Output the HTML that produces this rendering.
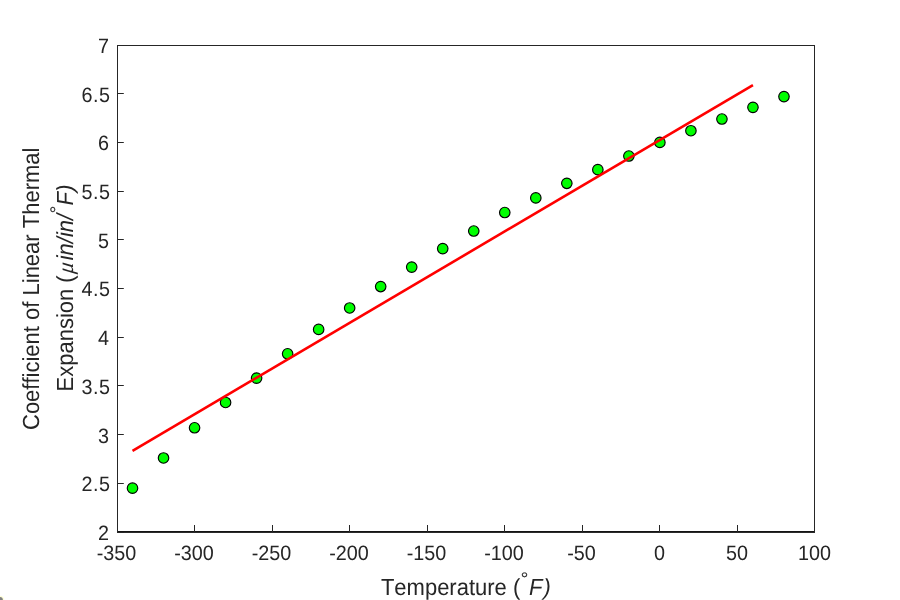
<!DOCTYPE html>
<html lang="en">
<head>
<meta charset="utf-8">
<title>Coefficient of Linear Thermal Expansion vs Temperature</title>
<style>
html,body{margin:0;padding:0;background:#fff;}
body{width:900px;height:600px;overflow:hidden;}
svg{display:block;}
text{font-family:"Liberation Sans",Arial,Helvetica,sans-serif;fill:#262626;text-rendering:geometricPrecision;}
.tk{font-size:19.80px;}
.lb{font-size:22.00px;font-kerning:none;}
.it{font-style:italic;}
.sp{letter-spacing:0.4px;}
.dg{font-family:"DejaVu Sans","Liberation Sans",sans-serif;font-weight:200;font-size:19px;stroke:#262626;stroke-width:0.35px;}
.mu{font-family:"Liberation Serif","DejaVu Serif",serif;font-style:italic;}
</style>
</head>
<body>
<svg width="900" height="600" viewBox="0 0 900 600">
<rect x="0" y="0" width="900" height="600" fill="#ffffff"/>
<circle cx="0" cy="600" r="4.3" fill="#ffffd8"/>
<circle cx="0" cy="600" r="2.9" fill="#808080"/>
<g stroke="#262626" stroke-width="1" fill="none" shape-rendering="crispEdges">
<line x1="117.5" y1="45.5" x2="117.5" y2="532.0"/>
<line x1="814.5" y1="45.5" x2="814.5" y2="532.0"/>
<line x1="117.0" y1="45.5" x2="815.0" y2="45.5"/>
</g>
<rect x="117.0" y="531.0" width="698.0" height="1.9" fill="#141414"/>
<g stroke="#262626" stroke-width="1" fill="none">
<line x1="117.50" y1="532.0" x2="117.50" y2="525.0"/>
<line x1="194.50" y1="532.0" x2="194.50" y2="525.0"/>
<line x1="272.50" y1="532.0" x2="272.50" y2="525.0"/>
<line x1="349.50" y1="532.0" x2="349.50" y2="525.0"/>
<line x1="427.50" y1="532.0" x2="427.50" y2="525.0"/>
<line x1="504.50" y1="532.0" x2="504.50" y2="525.0"/>
<line x1="582.50" y1="532.0" x2="582.50" y2="525.0"/>
<line x1="659.50" y1="532.0" x2="659.50" y2="525.0"/>
<line x1="737.50" y1="532.0" x2="737.50" y2="525.0"/>
<line x1="814.50" y1="532.0" x2="814.50" y2="525.0"/>
<line x1="117.5" y1="532.50" x2="123.8" y2="532.50"/>
<line x1="117.5" y1="483.50" x2="123.8" y2="483.50"/>
<line x1="117.5" y1="434.50" x2="123.8" y2="434.50"/>
<line x1="117.5" y1="385.50" x2="123.8" y2="385.50"/>
<line x1="117.5" y1="337.50" x2="123.8" y2="337.50"/>
<line x1="117.5" y1="288.50" x2="123.8" y2="288.50"/>
<line x1="117.5" y1="239.50" x2="123.8" y2="239.50"/>
<line x1="117.5" y1="191.50" x2="123.8" y2="191.50"/>
<line x1="117.5" y1="142.50" x2="123.8" y2="142.50"/>
<line x1="117.5" y1="93.50" x2="123.8" y2="93.50"/>
<line x1="117.5" y1="45.50" x2="123.8" y2="45.50"/>
</g>
<g class="tk">
<text transform="translate(116.50,560.00) scale(1,1.050)" text-anchor="middle">-350</text>
<text transform="translate(194.00,560.00) scale(1,1.050)" text-anchor="middle">-300</text>
<text transform="translate(271.50,560.00) scale(1,1.050)" text-anchor="middle">-250</text>
<text transform="translate(349.00,560.00) scale(1,1.050)" text-anchor="middle">-200</text>
<text transform="translate(426.50,560.00) scale(1,1.050)" text-anchor="middle">-150</text>
<text transform="translate(504.00,560.00) scale(1,1.050)" text-anchor="middle">-100</text>
<text transform="translate(581.50,560.00) scale(1,1.050)" text-anchor="middle">-50</text>
<text transform="translate(659.40,560.00) scale(1,1.050)" text-anchor="middle">0</text>
<text transform="translate(736.90,560.00) scale(1,1.050)" text-anchor="middle">50</text>
<text transform="translate(814.40,560.00) scale(1,1.050)" text-anchor="middle">100</text>
<text transform="translate(108.90,540.00) scale(1,1.050)" text-anchor="end">2</text>
<text transform="translate(81.60,491.00) scale(1,1.050)" class="sp">2.5</text>
<text transform="translate(108.90,443.00) scale(1,1.050)" text-anchor="end">3</text>
<text transform="translate(81.60,394.00) scale(1,1.050)" class="sp">3.5</text>
<text transform="translate(108.90,345.00) scale(1,1.050)" text-anchor="end">4</text>
<text transform="translate(81.60,296.00) scale(1,1.050)" class="sp">4.5</text>
<text transform="translate(108.90,248.00) scale(1,1.050)" text-anchor="end">5</text>
<text transform="translate(81.60,199.00) scale(1,1.050)" class="sp">5.5</text>
<text transform="translate(108.90,150.00) scale(1,1.050)" text-anchor="end">6</text>
<text transform="translate(81.60,102.00) scale(1,1.050)" class="sp">6.5</text>
<text transform="translate(108.90,53.00) scale(1,1.050)" text-anchor="end">7</text>
</g>
<g fill="#00ff00" stroke="#000000" stroke-width="1.15">
<circle cx="783.97" cy="96.62" r="5.25"/>
<circle cx="752.95" cy="107.34" r="5.25"/>
<circle cx="721.93" cy="119.02" r="5.25"/>
<circle cx="690.91" cy="130.71" r="5.25"/>
<circle cx="659.88" cy="142.40" r="5.25"/>
<circle cx="628.86" cy="156.04" r="5.25"/>
<circle cx="597.84" cy="169.67" r="5.25"/>
<circle cx="566.82" cy="183.31" r="5.25"/>
<circle cx="535.80" cy="197.92" r="5.25"/>
<circle cx="504.77" cy="212.53" r="5.25"/>
<circle cx="473.75" cy="231.03" r="5.25"/>
<circle cx="442.73" cy="248.57" r="5.25"/>
<circle cx="411.71" cy="267.07" r="5.25"/>
<circle cx="380.69" cy="286.55" r="5.25"/>
<circle cx="349.66" cy="307.98" r="5.25"/>
<circle cx="318.64" cy="329.41" r="5.25"/>
<circle cx="287.62" cy="353.76" r="5.25"/>
<circle cx="256.60" cy="378.11" r="5.25"/>
<circle cx="225.58" cy="402.46" r="5.25"/>
<circle cx="194.56" cy="427.78" r="5.25"/>
<circle cx="163.53" cy="457.98" r="5.25"/>
<circle cx="132.51" cy="488.17" r="5.25"/>
</g>
<line x1="132.51" y1="450.83" x2="752.95" y2="85.13" stroke="#ff0000" stroke-width="2.6"/>
<g class="lb">
<text transform="translate(380.90,594.70) scale(1,1.057)">Temperature (</text>
<text transform="translate(524.60,584.90) scale(1,0.920)" class="dg" text-anchor="middle">°</text>
<text transform="translate(528.90,594.70) scale(1,1.057)" class="it">F</text>
<text transform="translate(543.50,594.70) scale(1,1.057)" class="it">)</text>
</g>
<g class="lb" transform="translate(39.3,430) rotate(-90)">
<text transform="translate(0.00,0.00) scale(1,1.057)">Coefficient of Linear Thermal</text>
</g>
<g class="lb" transform="translate(73,390) rotate(-90)">
<text transform="translate(-1.50,0.00) scale(1,1.057)">Expansion (</text>
<text transform="translate(115.9,0) skewX(-7) scale(1,1.03)" class="mu">μ</text>
<text transform="translate(129.70,0.00) scale(1,1.057)" class="it">in/in/</text>
<text transform="translate(180.50,-9.60) scale(1,0.920)" class="dg" text-anchor="middle">°</text>
<text transform="translate(184.50,0.00) scale(1,1.057)" class="it">F</text>
<text transform="translate(198.20,0.00) scale(1,1.057)" class="it">)</text>
</g>
</svg>
</body>
</html>
